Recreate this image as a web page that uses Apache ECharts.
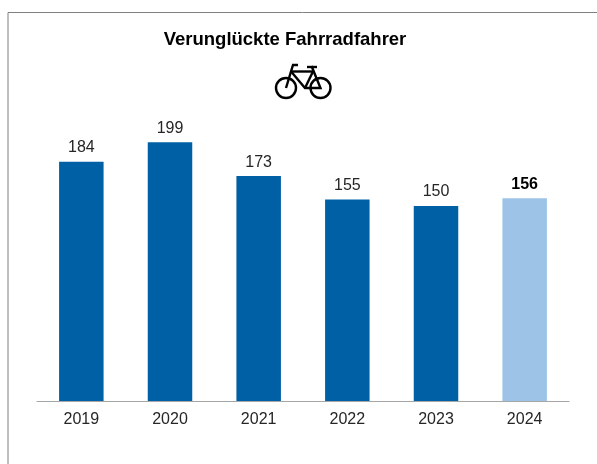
<!DOCTYPE html>
<html><head><meta charset="utf-8">
<script src="https://cdn.jsdelivr.net/npm/echarts@6/dist/echarts.min.js"></script>
<style>html,body{margin:0;padding:0;background:#fff}#c{width:597px;height:464px}</style>
</head><body><div id="c"></div>
<script>
const years = ['2019','2020','2021','2022','2023','2024'];
const values = [184,199,173,155,150,156];
const highlightIndex = 5;
const titleText = 'Verunglückte Fahrradfahrer';
const chart = echarts.init(document.getElementById('c'),null,{renderer:'canvas'});
const fontFamily = '"Liberation Sans", Arial, sans-serif';
const bikeStyle = {stroke:'#000',lineWidth:2.4,fill:null};
const line = pts => ({type:'polyline',shape:{points:pts},style:bikeStyle,silent:true});
chart.setOption({
  animation:false,
  backgroundColor:'#fff',
  title:{text:titleText,left:280,top:25,textAlign:'center',
    textStyle:{fontFamily,fontSize:18.5,fontWeight:'bold',color:'#000'}},
  grid:{left:37,right:28,top:11,bottom:63},
  xAxis:{type:'category',data:years,
    axisLine:{lineStyle:{color:'#a6a6a6',width:1}},axisTick:{show:false},
    axisLabel:{fontFamily,fontSize:16,color:'#262626',margin:11}},
  yAxis:{type:'value',min:0,max:300,show:false},
  series:[{type:'bar',barWidth:44.5,
    data:values.map((v,i)=>({value:v,
      itemStyle:{color:i===highlightIndex?'#9dc3e6':'#0060a6'},
      label:{fontWeight:i===highlightIndex?'bold':'normal',color:i===highlightIndex?'#000':'#262626'}})),
    label:{show:true,position:'top',distance:6,fontFamily,fontSize:16}}],
  graphic:[
    {type:'polyline',silent:true,shape:{points:[[8,464],[8,12.5],[597,12.5]]},style:{stroke:'#808080',lineWidth:1,fill:null}},
    {type:'circle',silent:true,shape:{cx:286,cy:88,r:10},style:bikeStyle},
    {type:'circle',silent:true,shape:{cx:320.5,cy:88,r:10},style:bikeStyle},
    line([[298,65],[293,65],[286,88]]),
    line([[291.5,71.5],[313,71.5]]),
    line([[291.5,72],[305,88],[320.5,88],[311.5,66]]),
    line([[305,88],[313,71.5]]),
    line([[307,67],[317,67]])
  ]
});
</script></body></html>
